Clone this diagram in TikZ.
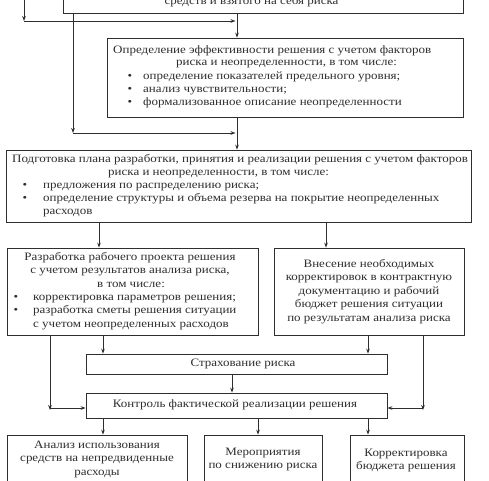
\documentclass[tikz,border=0pt]{standalone}
\usepackage{fontspec}
\setmainfont{Liberation Serif}[FakeStretch=1.15]
\usetikzlibrary{arrows.meta}
\definecolor{ink}{HTML}{2E2E2E}
\begin{document}
\begin{tikzpicture}[x=1pt,y=-1pt,
  frame/.style={draw=ink,line width=0.8pt,inner sep=0pt,fill=none},
  txt/.style={inner sep=0pt,text=ink,font=\fontsize{11.3}{13}\selectfont},
  tl/.style={txt,anchor=mid west},
  tc/.style={txt,anchor=mid},
  bul/.style={txt,anchor=mid},
  conn/.style={draw=ink,line width=0.8pt},
  arr/.style={conn,-{Stealth[length=5pt,width=3.6pt]}}
]
\useasboundingbox (0,0) rectangle (489,480);
\fill[white] (0,0) rectangle (489,480);
\clip (0,0) rectangle (489,480);

% boxes
\node[frame,minimum width=400pt,minimum height=43pt] (T) at (263,-8.5) {};
\node[frame,minimum width=356pt,minimum height=79pt] (B2) at (285,77.5) {};
\node[frame,minimum width=465pt,minimum height=72pt] (B3) at (238.5,186) {};
\node[frame,minimum width=251pt,minimum height=87pt] (B4) at (132.5,291.5) {};
\node[frame,minimum width=190pt,minimum height=87pt] (B5) at (369,291.5) {};
\node[frame,minimum width=301pt,minimum height=20pt] (S) at (236.5,364) {};
\node[frame,minimum width=301pt,minimum height=25pt] (K) at (236.5,405.5) {};
\node[frame,minimum width=180pt,minimum height=51pt] (A) at (97,460.5) {};
\node[frame,minimum width=118pt,minimum height=51pt] (Bm) at (263,460.5) {};
\node[frame,minimum width=114pt,minimum height=51pt] (C) at (407,460.5) {};

% texts
\node[tc] (t1) at (251.5,2.5) {средств и взятого на себя риска};

\node[tl] (b2a) at (113,51) {Определение эффективности решения с учетом факторов};
\node[tl] (b2b) at (176,63) {риска и неопределенности, в том числе:};
\node[bul] (b2c0) at (130,77) {•};
\node[tl] (b2c) at (143,77) {определение показателей предельного уровня;};
\node[bul] (b2d0) at (130,90) {•};
\node[tl] (b2d) at (143,90) {анализ чувствительности;};
\node[bul] (b2e0) at (130,103) {•};
\node[tl] (b2e) at (143,103) {формализованное описание неопределенности};

\node[tl] (b3a) at (12,160) {Подготовка плана разработки, принятия и реализации решения с учетом факторов};
\node[tl] (b3b) at (108,173) {риска и неопределенности, в том числе:};
\node[bul] (b3c0) at (25,186) {•};
\node[tl] (b3c) at (43,186) {предложения по распределению риска;};
\node[bul] (b3d0) at (25,199) {•};
\node[tl] (b3d) at (43,199) {определение структуры и объема резерва на покрытие неопределенных};
\node[tl] (b3e) at (43,212) {расходов};

\node[tc] (b4a) at (130,258) {Разработка рабочего проекта решения};
\node[tc] (b4b) at (130,271.4) {с учетом результатов анализа риска,};
\node[tc] (b4c) at (131,284.8) {в том числе:};
\node[bul] (b4d0) at (16,298.2) {•};
\node[tl] (b4d) at (33,298.2) {корректировка параметров решения;};
\node[bul] (b4e0) at (16,311.6) {•};
\node[tl] (b4e) at (33,311.6) {разработка сметы решения ситуации};
\node[tl] (b4f) at (33,325) {с учетом неопределенных расходов};

\node[tc] (b5a) at (369,265) {Внесение необходимых};
\node[tc] (b5b) at (369,278.5) {корректировок в контрактную};
\node[tc] (b5c) at (369,292) {документацию и рабочий};
\node[tc] (b5d) at (369,305.5) {бюджет решения ситуации};
\node[tc] (b5e) at (369,319) {по результатам анализа риска};

\node[tc] (st) at (243,364) {Страхование риска};
\node[tc] (kt) at (235,405) {Контроль фактической реализации решения};

\node[tc] (aa) at (97,446) {Анализ использования};
\node[tc] (ab) at (97,459.5) {средств на непредвиденные};
\node[tc] (ac) at (97,473) {расходы};
\node[tc] (ba) at (263,453) {Мероприятия};
\node[tc] (bb) at (263,466.5) {по снижению риска};
\node[tc] (ca) at (406,454) {Корректировка};
\node[tc] (cb) at (406,467.5) {бюджета решения};

% connector points
\coordinate (up1) at (24,-20);
\coordinate (c1) at (24,21);
\coordinate (j1) at (237,21);
\coordinate (c2) at (73,133);
\coordinate (j2) at (237,133);
\coordinate (c3) at (50,408);
\coordinate (c4) at (423,408);

% connectors
\draw[arr] (T.south -| j1) -- (B2.north -| j1);
\draw[arr] (up1) -- (c1);
\draw[arr] (c1) -- ([xshift=-1.5pt]j1);
\draw[arr] (T.south -| c2) -- (c2);
\draw[arr] (c2) -- ([xshift=-1.5pt]j2);
\draw[arr] (B2.south -| j2) -- (B3.north -| j2);

\draw[arr] (B3.south -| 99,0) -- (B4.north -| 99,0);
\draw[arr] (B3.south -| 326,0) -- (B5.north -| 326,0);

\draw[arr] (B4.south -| 103,0) -- (S.north -| 103,0);
\draw[arr] (B5.south -| 368,0) -- (S.north -| 368,0);

\draw[arr] (B4.south -| c3) -- ([yshift=-2pt]c3);
\draw[arr] (c3) -- (K.west |- c3);
\draw[arr] (B5.south -| c4) -- ([yshift=-2pt]c4);
\draw[arr] (c4) -- (K.east |- c4);

\draw[arr] (S.south -| 232,0) -- (K.north -| 232,0);

\draw[arr] (K.south -| 103,0) -- (A.north -| 103,0);
\draw[arr] (K.south -| 258,0) -- (Bm.north -| 258,0);
\draw[arr] (K.south -| 368,0) -- (C.north -| 368,0);
\end{tikzpicture}
\end{document}
